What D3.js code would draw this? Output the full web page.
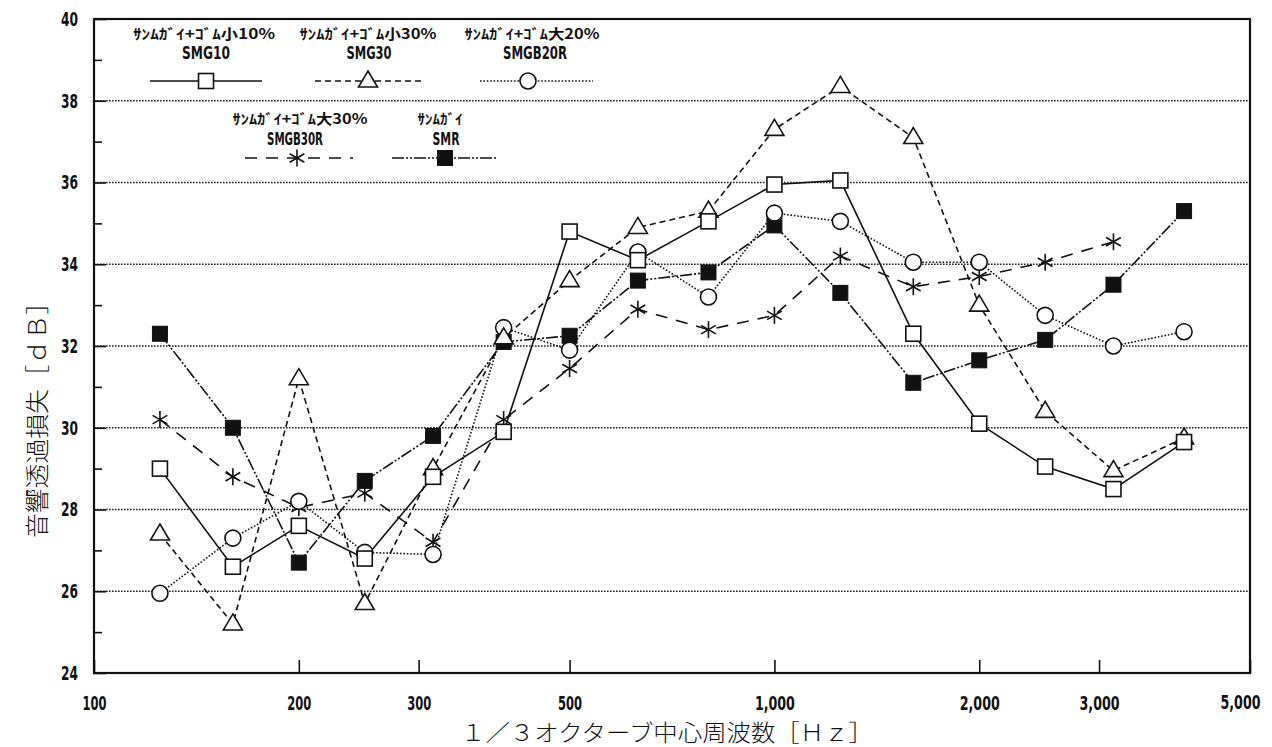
<!DOCTYPE html>
<html>
<head>
<meta charset="utf-8">
<script src="https://cdn.jsdelivr.net/npm/d3@7"></script>
<style>
  html, body { margin: 0; padding: 0; background: #fff; }
  svg { display: block; }
  .num { font-family: "Liberation Sans Narrow", "DejaVu Sans Condensed", "Arial Narrow", sans-serif; font-weight: bold; fill: #111; }
  .jp { font-family: "Noto Sans CJK JP", "Noto Sans CJK SC", sans-serif; fill: #111; }
</style>
</head>
<body>
<svg id="chart" width="1272" height="747"></svg>
<script>
// ---- data ----
const freqs = [125, 160, 200, 250, 315, 400, 500, 630, 800, 1000, 1250, 1600, 2000, 2500, 3150, 4000];
const smg10   = [29.0, 26.6, 27.6, 26.8, 28.8, 29.9, 34.8, 34.1, 35.05, 35.95, 36.05, 32.3, 30.1, 29.05, 28.5, 29.65];
const smg30   = [27.4, 25.2, 31.2, 25.7, 29.0, 32.2, 33.6, 34.9, 35.3, 37.3, 38.35, 37.1, 33.0, 30.4, 28.95, 29.75];
const smgb20r = [25.95, 27.3, 28.2, 26.95, 26.9, 32.45, 31.9, 34.3, 33.2, 35.25, 35.05, 34.05, 34.05, 32.75, 32.0, 32.35];
const smgb30r = [30.2, 28.8, 28.05, 28.4, 27.2, 30.2, 31.45, 32.9, 32.4, 32.75, 34.2, 33.45, 33.7, 34.05, 34.55];
const smr     = [32.3, 30.0, 26.7, 28.7, 29.8, 32.1, 32.25, 33.6, 33.8, 34.95, 33.3, 31.1, 31.65, 32.15, 33.5, 35.3];

const seriesNames = ["SMG10", "SMG30", "SMGB20R", "SMGB30R", "SMR"];
const seriesLabelsJP = ["ｻﾝﾑｶﾞｲ+ｺﾞﾑ小10%", "ｻﾝﾑｶﾞｲ+ｺﾞﾑ小30%", "ｻﾝﾑｶﾞｲ+ｺﾞﾑ大20%", "ｻﾝﾑｶﾞｲ+ｺﾞﾑ大30%", "ｻﾝﾑｶﾞｲ"];
const xTickValues = [100, 200, 300, 500, 1000, 2000, 3000, 5000];
const xTickLabels = ["100", "200", "300", "500", "1,000", "2,000", "3,000", "5,000"];
const yTickValues = [24, 26, 28, 30, 32, 34, 36, 38, 40];
const yMinorValues = [25, 27, 29, 31, 33, 35, 37, 39];
const xTitle = "１／３オクターブ中心周波数［Ｈｚ］";
const yTitle = "音響透過損失［ｄＢ］";

// ---- layout ----
const L = 94, R = 1250, T = 19, B = 673;
const svg = d3.select("#chart");
const x = d3.scaleLog().domain([100, 5000]).range([L, R]);
const y = d3.scaleLinear().domain([24, 40]).range([B, T]);

// grid lines (dotted)
svg.append("g").selectAll("line")
  .data(yTickValues.filter(v => v > 24 && v < 40))
  .join("line")
  .attr("x1", L).attr("x2", R)
  .attr("y1", d => y(d)).attr("y2", d => y(d))
  .attr("stroke", "#222").attr("stroke-width", 1.6)
  .attr("stroke-dasharray", "1.6,1.4");

// y axis (major)
const yAxis = svg.append("g").attr("transform", `translate(${L},0)`)
  .call(d3.axisLeft(y).tickValues(yTickValues).tickSizeInner(-12).tickSizeOuter(0).tickPadding(16).tickFormat(d3.format("d")));
yAxis.select(".domain").remove();
yAxis.selectAll("line").attr("stroke", "#111").attr("stroke-width", 1.6);
yAxis.selectAll("text").attr("class", "num").attr("font-size", 20).attr("fill", "#111")
  .attr("textLength", 17).attr("lengthAdjust", "spacingAndGlyphs");

// y axis (minor)
const yMinor = svg.append("g").attr("transform", `translate(${L},0)`)
  .call(d3.axisLeft(y).tickValues(yMinorValues).tickSizeInner(-8).tickSizeOuter(0).tickFormat(""));
yMinor.select(".domain").remove();
yMinor.selectAll("line").attr("stroke", "#111").attr("stroke-width", 1.6);

// x axis
const xAxis = svg.append("g").attr("transform", `translate(0,${B})`)
  .call(d3.axisBottom(x).tickValues(xTickValues).tickSizeInner(-13).tickSizeOuter(0).tickPadding(23)
    .tickFormat((d, i) => xTickLabels[i]));
xAxis.select(".domain").remove();
xAxis.selectAll("line").attr("stroke", "#111").attr("stroke-width", 1.6);
xAxis.selectAll("text").attr("class", "num").attr("font-size", 20).attr("fill", "#111")
  .attr("textLength", (d, i) => xTickLabels[i].length > 3 ? 40 : 24)
  .attr("lengthAdjust", "spacingAndGlyphs");
// last label sits at the right edge as in the reference
xAxis.selectAll("text").filter(d => d === 5000).attr("text-anchor", "end").attr("x", 10).attr("font-size", 19);

// frame
svg.append("rect").attr("x", L).attr("y", T).attr("width", R - L).attr("height", B - T)
  .attr("fill", "none").attr("stroke", "#111").attr("stroke-width", 2.2);

// axis titles
svg.append("text").attr("class", "jp").attr("x", 667).attr("y", 731)
  .attr("text-anchor", "middle").attr("dominant-baseline", "central")
  .attr("font-size", 23).attr("font-weight", 300).attr("textLength", 412).attr("lengthAdjust", "spacingAndGlyphs")
  .text(xTitle);
svg.append("text").attr("class", "jp")
  .attr("transform", "translate(35,414) rotate(-90)")
  .attr("text-anchor", "middle").attr("dominant-baseline", "central")
  .attr("font-size", 24).attr("font-weight", 300).attr("textLength", 248).attr("lengthAdjust", "spacingAndGlyphs")
  .text(yTitle);

// ---- markers ----
function drawMarker(g, type, cx, cy) {
  if (type === "square") {
    g.append("rect").attr("x", cx - 7.5).attr("y", cy - 7.5).attr("width", 15).attr("height", 15)
      .attr("fill", "#fff").attr("stroke", "#111").attr("stroke-width", 1.6);
  } else if (type === "fsquare") {
    g.append("rect").attr("x", cx - 7.5).attr("y", cy - 7.5).attr("width", 15).attr("height", 15)
      .attr("fill", "#111").attr("stroke", "#111").attr("stroke-width", 1);
  } else if (type === "triangle") {
    const p = [[cx, cy - 10], [cx + 9.5, cy + 6], [cx - 9.5, cy + 6]];
    g.append("path").attr("d", "M" + p.map(q => q.join(",")).join("L") + "Z")
      .attr("fill", "#fff").attr("stroke", "#111").attr("stroke-width", 1.6);
  } else if (type === "circle") {
    g.append("circle").attr("cx", cx).attr("cy", cy).attr("r", 8)
      .attr("fill", "#fff").attr("stroke", "#111").attr("stroke-width", 1.6);
  } else if (type === "star") {
    const r = 8.5;
    [90, 30, 150].forEach(a => {
      const rad = a * Math.PI / 180;
      g.append("line")
        .attr("x1", cx - r * Math.cos(rad)).attr("y1", cy - r * Math.sin(rad))
        .attr("x2", cx + r * Math.cos(rad)).attr("y2", cy + r * Math.sin(rad))
        .attr("stroke", "#111").attr("stroke-width", 1.6);
    });
  }
}

const series = [
  { name: seriesNames[0], jp: seriesLabelsJP[0], values: smg10,   marker: "square",   dash: null,            lx: 206, ly: 81,  line: [150, 262] },
  { name: seriesNames[1], jp: seriesLabelsJP[1], values: smg30,   marker: "triangle", dash: "6,4",           lx: 368, ly: 81,  line: [315, 422] },
  { name: seriesNames[2], jp: seriesLabelsJP[2], values: smgb20r, marker: "circle",   dash: "1.6,1.8",       lx: 528, ly: 81,  line: [480, 593] },
  { name: seriesNames[3], jp: seriesLabelsJP[3], values: smgb30r, marker: "star",     dash: "12,9",          lx: 297, ly: 158, line: [245, 353] },
  { name: seriesNames[4], jp: seriesLabelsJP[4], values: smr,     marker: "fsquare",  dash: "12,2,2,2,2,2",  lx: 445, ly: 158, line: [392, 498] }
];

const lineGen = d3.line().x(d => x(d[0])).y(d => y(d[1]));

const linesG = svg.append("g");
const marksG = svg.append("g");
series.forEach(s => {
  const pts = s.values.map((v, i) => [freqs[i], v]);
  linesG.append("path").attr("d", lineGen(pts)).attr("fill", "none")
    .attr("stroke", "#111").attr("stroke-width", 1.6)
    .attr("stroke-dasharray", s.dash);
});
series.slice().reverse().forEach(s => {
  s.values.forEach((v, i) => drawMarker(marksG, s.marker, x(freqs[i]), y(v)));
});

// ---- legend ----
const leg = svg.append("g");
const jpCenters = [[204, 33], [368, 33], [532, 33], [300, 118], [440, 118]];
const jpWidths = [142, 137, 135, 135, 45];
const nameCenters = [[206, 53], [369, 53], [535, 53], [295, 139], [446, 139]];
const nameWidths = [48, 45, 64, 56, 27];
series.forEach((s, k) => {
  leg.append("text").attr("class", "jp")
    .attr("x", jpCenters[k][0]).attr("y", jpCenters[k][1])
    .attr("text-anchor", "middle").attr("dominant-baseline", "central")
    .attr("font-size", 14).attr("font-weight", "bold")
    .attr("textLength", jpWidths[k]).attr("lengthAdjust", "spacingAndGlyphs")
    .text(s.jp);
  leg.append("text").attr("class", "num")
    .attr("x", nameCenters[k][0]).attr("y", nameCenters[k][1])
    .attr("text-anchor", "middle").attr("dominant-baseline", "central")
    .attr("font-size", 17)
    .attr("textLength", nameWidths[k]).attr("lengthAdjust", "spacingAndGlyphs")
    .text(s.name);
  leg.append("line").attr("x1", s.line[0]).attr("x2", s.line[1])
    .attr("y1", s.ly).attr("y2", s.ly)
    .attr("stroke", "#111").attr("stroke-width", 1.6).attr("stroke-dasharray", s.dash);
  drawMarker(leg, s.marker, s.lx, s.ly);
});
</script>
</body>
</html>
